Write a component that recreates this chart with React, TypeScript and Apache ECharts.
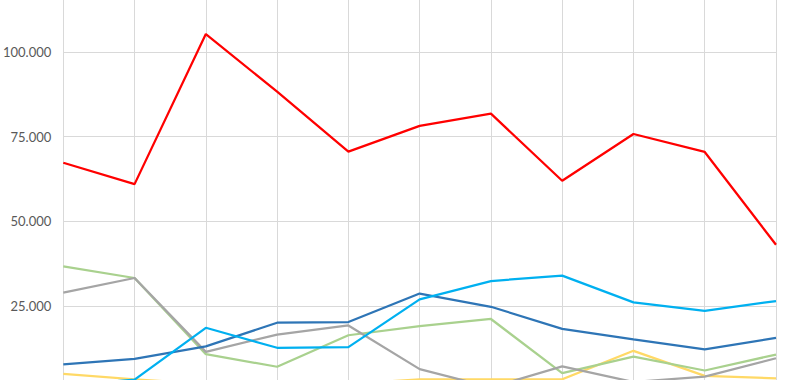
import React, { useEffect, useRef } from "react";
import * as echarts from "echarts";

const categories = ["1", "2", "3", "4", "5", "6", "7", "8", "9", "10", "11"];
const redValues = [67300, 61000, 105300, 88300, 70600, 78200, 81800, 62000, 75800, 70500, 43100];
const darkBlueValues = [7800, 9400, 13100, 20100, 20300, 28700, 24800, 18300, 15200, 12200, 15600];
const cyanValues = [1500, 3300, 18600, 12700, 12900, 27000, 32400, 34000, 26100, 23600, 26500];
const greenValues = [36700, 33300, 10800, 7100, 16400, 19100, 21200, 5200, 10100, 6000, 10700];
const grayValues = [29000, 33300, 11500, 16600, 19300, 6400, 1000, 7200, 2600, 4200, 9600];
const yellowValues = [5000, 3400, 2000, 1500, 2000, 3400, 3400, 3400, 11800, 4400, 3700];
const yTicks = [25000, 50000, 75000, 100000];
const yVisibleMin = 3190;
const yVisibleMax = 115350;

function fmt(v: number): string {
  return String(Math.round(v)).replace(/\B(?=(\d{3})+(?!\d))/g, ".");
}

export default function App() {
  const ref = useRef<HTMLDivElement>(null);
  useEffect(() => {
    if (!ref.current) return;
    const chart = echarts.init(ref.current, null, { renderer: "svg" });
    const mk = (name: string, data: number[], color: string, w = 2.25) => ({
      name,
      type: "line",
      data,
      symbol: "none",
      lineStyle: { color, width: w },
      itemStyle: { color },
    });
    chart.setOption({
      animation: false,
      backgroundColor: "#ffffff",
      grid: { left: 62, right: 24, top: 0, bottom: 0, containLabel: false },
      xAxis: {
        type: "category",
        data: categories,
        boundaryGap: false,
        axisLabel: { show: false },
        axisTick: { show: false },
        axisLine: { show: false },
        splitLine: { show: true, lineStyle: { color: "#d9d9d9", width: 1 } },
      },
      yAxis: {
        type: "value",
        min: yVisibleMin,
        max: yVisibleMax,
        axisLine: { show: false },
        axisTick: { show: false, customValues: yTicks },
        axisLabel: {
          customValues: yTicks,
          formatter: (v: number) => fmt(v),
          color: "#595959",
          fontSize: 13,
          fontFamily: "Lato",
          margin: 12,
        },
        splitLine: { show: true, lineStyle: { color: "#d9d9d9", width: 1 } },
      },
      series: [
        mk("Yellow", yellowValues, "#ffd966"),
        mk("Green", greenValues, "#a9d18e"),
        mk("Gray", grayValues, "#a5a5a5"),
        mk("Dark blue", darkBlueValues, "#2e75b6"),
        mk("Cyan", cyanValues, "#00b0f0"),
        mk("Red", redValues, "#ff0000"),
      ],
    });
    return () => chart.dispose();
  }, []);
  return (
    <div
      ref={ref}
      style={{ position: "fixed", left: 0, top: 0, width: 800, height: 380, background: "#fff" }}
    />
  );
}
